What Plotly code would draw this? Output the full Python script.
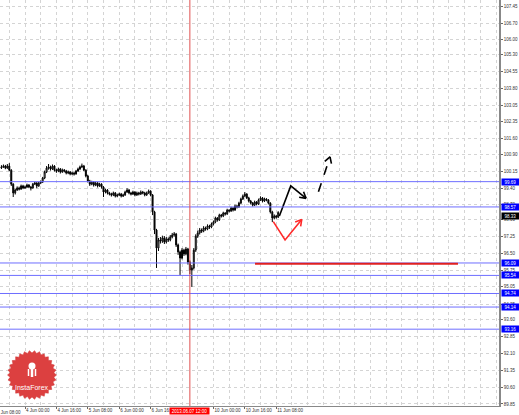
import math
import plotly.graph_objects as go

# ---------------- data ----------------
# H1 bars, numbered from 3 Jun 08:00 (bar 0); weekend skipped
bar_index = list(range(4, 146))

close = [100.34, 100.38, 100.29, 100.38, 100.20, 99.58, 99.19, 99.32, 99.41, 99.36,
         99.50, 99.41, 99.45, 99.54, 99.45, 99.41, 99.58, 99.63, 99.50, 99.63,
         99.67, 99.85, 100.12, 100.29, 100.34, 100.25, 100.38, 100.20, 100.16, 100.25,
         100.12, 100.20, 100.16, 100.07, 100.12, 100.03, 100.07, 100.03, 100.16, 100.25,
         100.34, 100.38, 100.20, 99.94, 99.72, 99.58, 99.67, 99.54, 99.63, 99.50,
         99.58, 99.45, 99.23, 99.32, 99.19, 99.14, 99.10, 99.19, 99.05, 99.10,
         99.14, 99.05, 99.10, 99.23, 99.32, 99.19, 99.14, 99.23, 99.10, 99.19,
         99.14, 99.23, 99.19, 99.10, 99.19, 99.27, 99.10, 98.35, 97.55, 96.75,
         97.11, 97.06, 97.20, 97.02, 97.15, 97.11, 97.24, 97.33, 97.37, 96.89,
         96.58, 96.31, 96.66, 96.49, 96.71, 96.13, 95.78, 95.87, 96.66, 97.28,
         97.42, 97.55, 97.50, 97.64, 97.59, 97.73, 97.68, 97.81, 97.90, 98.08,
         97.99, 98.21, 98.17, 98.30, 98.26, 98.43, 98.39, 98.52, 98.43, 98.61,
         98.57, 98.74, 98.92, 99.05, 99.14, 98.97, 98.83, 98.74, 98.65, 98.79,
         98.70, 98.88, 98.97, 98.83, 98.92, 98.88, 98.74, 98.35, 98.08, 98.17,
         98.12, 98.33]

high = [100.42, 100.45, 100.43, 100.47, 100.51, 100.24, 99.62, 99.38, 99.48, 99.47,
        99.56, 99.55, 99.52, 99.60, 99.58, 99.50, 99.63, 99.69, 99.67, 99.68,
        99.74, 99.90, 100.18, 100.38, 100.47, 100.40, 100.45, 100.42, 100.26, 100.31,
        100.29, 100.27, 100.25, 100.21, 100.18, 100.16, 100.13, 100.12, 100.21, 100.31,
        100.40, 100.49, 100.43, 100.24, 99.99, 99.77, 99.73, 99.71, 99.69, 99.67,
        99.64, 99.62, 99.49, 99.38, 99.36, 99.24, 99.20, 99.25, 99.23, 99.16,
        99.20, 99.19, 99.16, 99.29, 99.40, 99.36, 99.24, 99.29, 99.27, 99.25,
        99.24, 99.30, 99.28, 99.24, 99.25, 99.34, 99.31, 99.14, 98.40, 97.60,
        97.20, 97.24, 97.30, 97.28, 97.24, 97.22, 97.33, 97.42, 97.46, 97.42,
        96.95, 96.64, 96.75, 96.72, 96.80, 96.76, 96.20, 96.00, 96.75, 97.36,
        97.52, 97.64, 97.62, 97.72, 97.70, 97.80, 97.78, 97.88, 97.97, 98.14,
        98.12, 98.27, 98.26, 98.36, 98.34, 98.49, 98.47, 98.58, 98.56, 98.67,
        98.66, 98.80, 98.98, 99.12, 99.23, 99.18, 99.02, 98.88, 98.79, 98.85,
        98.83, 98.94, 99.04, 99.01, 98.98, 98.96, 98.92, 98.78, 98.40, 98.24,
        98.22, 98.38]

low = [100.25, 100.30, 100.24, 100.26, 100.15, 99.50, 99.01, 99.12, 99.28, 99.30,
       99.33, 99.36, 99.37, 99.41, 99.40, 99.30, 99.38, 99.54, 99.40, 99.46,
       99.58, 99.63, 99.80, 100.07, 100.22, 100.18, 100.21, 100.14, 100.08, 100.11,
       100.05, 100.08, 100.10, 100.01, 100.02, 99.97, 99.98, 99.96, 100.00, 100.12,
       100.20, 100.29, 100.15, 99.88, 99.66, 99.50, 99.53, 99.47, 99.49, 99.43,
       99.46, 99.38, 99.01, 99.17, 99.12, 99.08, 99.03, 99.05, 98.99, 99.00,
       99.05, 98.99, 99.01, 99.06, 99.19, 99.13, 99.08, 99.10, 99.04, 99.06,
       99.08, 99.10, 99.13, 99.04, 99.06, 99.15, 99.04, 98.21, 97.37, 95.87,
       96.62, 96.95, 96.98, 96.93, 96.95, 97.02, 97.05, 97.18, 97.26, 96.80,
       96.45, 95.56, 96.25, 96.40, 96.43, 96.02, 95.60, 95.03, 95.80, 96.58,
       97.20, 97.35, 97.42, 97.45, 97.52, 97.54, 97.60, 97.63, 97.75, 97.85,
       97.92, 97.95, 98.10, 98.12, 98.19, 98.22, 98.33, 98.35, 98.37, 98.40,
       98.50, 98.53, 98.70, 98.88, 99.00, 98.92, 98.77, 98.68, 98.59, 98.61,
       98.64, 98.66, 98.84, 98.77, 98.79, 98.82, 98.68, 98.28, 97.90, 98.02,
       98.05, 98.08]

first_open = 100.30
open_ = [first_open] + close[:-1]   # each bar opens at the previous close

# visible time labels (7 Jun 08:00 is hidden under the cursor label in the picture)
time_tick_bars = [16, 32, 48, 64, 80, 112, 128, 144]
time_tick_labels = ["4 Jun 00:00", "4 Jun 16:00", "5 Jun 08:00",
                    "6 Jun 00:00", "6 Jun 16:00", "10 Jun 00:00",
                    "10 Jun 16:00", "11 Jun 08:00"]
first_time_bar = 0
first_time_label = "3 Jun 08:00"   # its tick is left of the window; text is clipped

price_tick_labels = ["89.85", "90.60", "91.35", "92.10", "92.85", "93.60", "94.25",
                     "95.05", "95.75", "96.50", "97.25", "98.00", "98.70", "99.40",
                     "100.15", "100.90", "101.60", "102.35", "103.05", "103.80",
                     "104.55", "105.30", "106.00", "106.70", "107.45"]

level_prices = [99.69, 98.57, 96.09, 95.54, 94.74, 94.14, 93.16]
level_labels = ["99.69", "98.57", "96.09", "95.54", "94.74", "94.14", "93.16"]
bid_price = 98.33
bid_label = "98.33"

cursor_bar = 100
cursor_label = "2013.06.07 12:00"

target_bars = [133.2, 236.6]
target_price = 96.06

# hand-drawn forecast arrows (bar, price)
black_arrow_bars = [145.6, 151.4, 159.2]
black_arrow_prices = [98.17, 99.50, 98.95]
dash_arrow_bars = [165.5, 171.4]
dash_arrow_prices = [99.24, 100.79]
red_arrow_bars = [142.5, 148.5, 157.0]
red_arrow_prices = [97.92, 97.11, 98.02]

# ---------------- layout geometry ----------------
W, H = 519, 415
PLOT_W, PLOT_H = 499, 406
X_RANGE = [3.26, 257.5]
Y_RANGE = [89.76, 107.73]
px_per_bar = PLOT_W / (X_RANGE[1] - X_RANGE[0])
px_per_price = PLOT_H / (Y_RANGE[1] - Y_RANGE[0])

FONT = "Liberation Sans"

fig = go.Figure()

fig.add_trace(go.Candlestick(
    x=bar_index, open=open_, high=high, low=low, close=close,
    increasing=dict(line=dict(color="black", width=1), fillcolor="white"),
    decreasing=dict(line=dict(color="black", width=1), fillcolor="black"),
    showlegend=False, hoverinfo="skip", whiskerwidth=0,
))

shapes = []
# horizontal blue levels
for p in level_prices:
    shapes.append(dict(type="line", xref="paper", x0=0, x1=1, yref="y", y0=p, y1=p,
                       line=dict(color="#6e6eff", width=1), layer="above"))
# red target line
shapes.append(dict(type="line", xref="x", x0=target_bars[0], x1=target_bars[1],
                   yref="y", y0=target_price, y1=target_price,
                   line=dict(color="#e02020", width=2), layer="above"))
# red cursor line
shapes.append(dict(type="line", xref="x", x0=cursor_bar, x1=cursor_bar,
                   yref="paper", y0=0, y1=1,
                   line=dict(color="#e05050", width=1), layer="above"))


def to_px(b, p):
    return ((b - X_RANGE[0]) * px_per_bar, (Y_RANGE[1] - p) * px_per_price)


def to_data(x, y):
    return (X_RANGE[0] + x / px_per_bar, Y_RANGE[1] - y / px_per_price)


def add_arrow(bars, prices, color, dash="solid"):
    fig.add_trace(go.Scatter(x=bars, y=prices, mode="lines",
                             line=dict(color=color, width=1.6, dash=dash),
                             showlegend=False, hoverinfo="skip"))
    # open V arrow head at the last point
    x1, y1 = to_px(bars[-1], prices[-1])
    x0, y0 = to_px(bars[-2], prices[-2])
    ang = math.atan2(y1 - y0, x1 - x0)
    hl = 7
    for da in (math.radians(150), math.radians(-150)):
        hx, hy = x1 + hl * math.cos(ang + da), y1 + hl * math.sin(ang + da)
        hb, hp = to_data(hx, hy)
        fig.add_trace(go.Scatter(x=[hb, bars[-1]], y=[hp, prices[-1]], mode="lines",
                                 line=dict(color=color, width=1.6),
                                 showlegend=False, hoverinfo="skip"))


add_arrow(black_arrow_bars, black_arrow_prices, "black")
add_arrow(dash_arrow_bars, dash_arrow_prices, "black", dash="dash")
add_arrow(red_arrow_bars, red_arrow_prices, "#ff2a2a")

# logo (serrated badge) in pixel space -> paper coords


def ppx(x, y):
    return (x / PLOT_W, 1 - y / PLOT_H)


cx, cy = 32, 375
pts = []
teeth = 30
for k in range(teeth * 2):
    r = 24.5 if k % 2 == 0 else 22.0
    a = math.pi * k / teeth
    pts.append(ppx(cx + r * math.cos(a), cy + r * math.sin(a)))
path = "M " + " L ".join(f"{a:.5f},{b:.5f}" for a, b in pts) + " Z"
shapes.append(dict(type="path", xref="paper", yref="paper", path=path,
                   fillcolor="#dc4040", line=dict(color="#d03838", width=0.5), layer="above"))
# icon
ix0, iy0 = ppx(cx - 3.5, 366 - 3.5)
ix1, iy1 = ppx(cx + 3.5, 366 + 3.5)
shapes.append(dict(type="circle", xref="paper", yref="paper", x0=ix0, y0=iy0, x1=ix1, y1=iy1,
                   fillcolor="white", line=dict(color="white", width=0), layer="above"))
sx0, sy0 = ppx(cx, 368)
sx1, sy1 = ppx(cx, 377)
shapes.append(dict(type="line", xref="paper", yref="paper", x0=sx0, y0=sy0, x1=sx1, y1=sy1,
                   line=dict(color="white", width=2.5), layer="above"))
for dx in (-3.5, 3.5):
    ax0, ay0 = ppx(cx + dx, 369)
    ax1, ay1 = ppx(cx + dx, 376)
    shapes.append(dict(type="line", xref="paper", yref="paper", x0=ax0, y0=ay0, x1=ax1, y1=ay1,
                       line=dict(color="white", width=1.5), layer="above"))

annotations = []
lx, ly = ppx(cx, 387)
annotations.append(dict(xref="paper", yref="paper", x=lx, y=ly, text="InstaForex",
                        showarrow=False, font=dict(family=FONT, size=7, color="white"),
                        xanchor="center", yanchor="middle"))

for p, t in zip(level_prices, level_labels):
    annotations.append(dict(xref="paper", x=1, xanchor="left", xshift=2, yref="y", y=p,
                            yanchor="middle", text=t, showarrow=False,
                            font=dict(family=FONT, size=4.5, color="white"),
                            bgcolor="#0000ff", width=16, height=5, borderpad=0.5))
annotations.append(dict(xref="paper", x=1, xanchor="left", xshift=2, yref="y", y=bid_price,
                        yanchor="top", text=bid_label, showarrow=False,
                        font=dict(family=FONT, size=4.5, color="white"),
                        bgcolor="#000000", width=16, height=5, borderpad=0.5))
annotations.append(dict(xref="x", x=cursor_bar, xanchor="center", yref="paper", y=0,
                        yanchor="top", yshift=-1, text=cursor_label, showarrow=False,
                        font=dict(family=FONT, size=4.5, color="white"),
                        bgcolor="#ff0000", width=38, height=5, borderpad=0.5))
# first time label: its tick lies left of the window, place it relative to the plot edge
first_shift = (first_time_bar - X_RANGE[0]) * px_per_bar
annotations.append(dict(xref="paper", x=0, xanchor="left", xshift=first_shift + 1,
                        yref="paper", y=0, yanchor="top", yshift=-2,
                        text=first_time_label, showarrow=False,
                        font=dict(family=FONT, size=4.5, color="#333333")))

fig.update_layout(
    width=W, height=H,
    margin=dict(l=0, r=W - PLOT_W, t=0, b=H - PLOT_H),
    paper_bgcolor="white", plot_bgcolor="white",
    shapes=shapes, annotations=annotations,
    font=dict(family=FONT, size=4.5, color="#333333"),
    xaxis=dict(range=X_RANGE, rangeslider=dict(visible=False),
               tickvals=time_tick_bars, ticktext=time_tick_labels,
               ticklabelposition="outside right", tickangle=0,
               ticks="outside", ticklen=2, tickcolor="#666666",
               tickfont=dict(family=FONT, size=4.5, color="#333333"),
               showgrid=True, gridcolor="#d4d4d4", griddash="dot", gridwidth=1,
               minor=dict(dtick=8, tick0=0, showgrid=True, gridcolor="#d4d4d4",
                          griddash="dot", gridwidth=1),
               showline=True, linecolor="#888888", linewidth=1,
               zeroline=False, automargin=False, fixedrange=True),
    yaxis=dict(range=Y_RANGE, side="right",
               tickvals=[float(t) for t in price_tick_labels], ticktext=price_tick_labels,
               ticks="outside", ticklen=2, tickcolor="#666666",
               tickfont=dict(family=FONT, size=4.5, color="#333333"),
               showgrid=True, gridcolor="#d4d4d4", griddash="dot", gridwidth=1,
               showline=True, linecolor="#888888", linewidth=1.5,
               zeroline=False, automargin=False, fixedrange=True),
)

fig.write_html("out.html", config={"displayModeBar": False},
               post_script="document.body.style.margin='0px';document.body.style.overflow='hidden';")
